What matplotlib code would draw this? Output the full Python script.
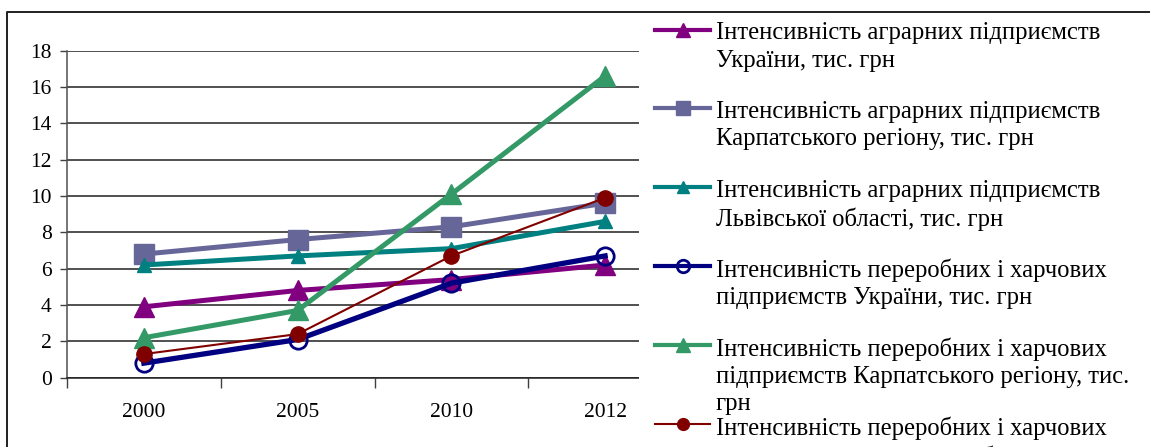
import matplotlib
matplotlib.use("Agg")
import matplotlib.pyplot as plt
from matplotlib.lines import Line2D
from matplotlib.patches import Rectangle
import numpy as np

plt.rcParams['font.family'] = ['Liberation Serif', 'DejaVu Serif']

years = ["2000", "2005", "2010", "2012"]
y_ticks = [0, 2, 4, 6, 8, 10, 12, 14, 16, 18]

agri_ukraine = [3.9, 4.8, 5.4, 6.2]
agri_carpathian = [6.8, 7.6, 8.3, 9.6]
agri_lviv = [6.2, 6.7, 7.1, 8.6]
food_ukraine = [0.8, 2.1, 5.2, 6.7]
food_carpathian = [2.2, 3.7, 10.1, 16.6]
food_lviv = [1.3, 2.4, 6.7, 9.9]

labels = [
    "Інтенсивність аграрних підприємств\nУкраїни, тис. грн",
    "Інтенсивність аграрних підприємств\nКарпатського регіону, тис. грн",
    "Інтенсивність аграрних підприємств\nЛьвівської області, тис. грн",
    "Інтенсивність переробних і харчових\nпідприємств України, тис. грн",
    "Інтенсивність переробних і харчових\nпідприємств Карпатського регіону, тис.\nгрн",
    "Інтенсивність переробних і харчових\nпідприємств Львівської області, тис. грн",
]

# (values, colour, marker, line width, plot marker size, legend marker size, face colour)
series = [
    (agri_ukraine, "#800080", "^", 3.6, 14.5, 10, "#800080"),
    (agri_carpathian, "#666699", "s", 3.6, 14, 10, "#666699"),
    (agri_lviv, "#008080", "^", 3.6, 10.5, 9, "#008080"),
    (food_ukraine, "#000080", "o", 3.8, 12.5, 9, "none"),
    (food_carpathian, "#339966", "^", 3.6, 14.5, 10, "#339966"),
    (food_lviv, "#800000", "o", 1.5, 11, 8.5, "#800000"),
]

W, H = 1150, 447
fig = plt.figure(figsize=(W / 100, H / 100), dpi=100)

# plot area in pixel terms
px_left, px_right, px_top, px_bottom = 67, 682, 50.5, 377.7
ax = fig.add_axes([px_left / W, 1 - px_bottom / H,
                   (px_right - px_left) / W, (px_bottom - px_top) / H])

x = np.arange(len(years)) + 0.5
for vals, col, mk, lw, ms, lms, fc in series:
    ax.plot(x, vals, color=col, lw=lw, marker=mk, ms=ms,
            markerfacecolor=fc, markeredgecolor=col,
            markeredgewidth=2 if fc == "none" else 1, zorder=3)

ax.set_xlim(0, len(years))
ax.set_ylim(0, 18)
ax.set_yticks(y_ticks)
ax.set_yticklabels([str(v) for v in y_ticks])
ax.set_xticks(np.arange(len(years) + 1))
ax.set_xticklabels([])
ax.set_xticks(x, minor=True)
ax.set_xticklabels(years, minor=True)
ax.tick_params(axis='x', which='major', length=7, width=1, color='#404040', direction='out')
ax.tick_params(axis='x', which='minor', length=0, pad=18, labelsize=15.5)
ax.tick_params(axis='y', length=5, width=1, color='#404040', pad=6, labelsize=15.5)
ax.yaxis.grid(True, color='#202020', lw=1.1)
ax.set_axisbelow(True)
for s in ['top', 'right']:
    ax.spines[s].set_visible(False)
ax.spines['left'].set_color('#505050')
ax.spines['bottom'].set_color('#202020')
ax.spines['left'].set_linewidth(1.1)
ax.spines['bottom'].set_linewidth(1.1)

# legend panel on the right, overlapping the plot area
panel_left = 639
fig.patches.append(Rectangle((panel_left / W, 0), 1 - panel_left / W, 1 - 14 / H,
                             transform=fig.transFigure, facecolor='white',
                             edgecolor='none', zorder=5))

# chart border
fig.add_artist(Line2D([7 / W, 7 / W, 1.0], [0, 1 - 12 / H, 1 - 12 / H],
                      transform=fig.transFigure, color='#202020', lw=1.4, zorder=6))

entry_top, entry_step = 29.5, 78.8
for i, ((vals, col, mk, lw, ms, lms, fc), lab) in enumerate(zip(series, labels)):
    yy = 1 - (entry_top + i * entry_step) / H
    fig.add_artist(Line2D([655 / W, 710 / W], [yy, yy], transform=fig.transFigure,
                          color=col, lw=min(lw, 3.0), zorder=7))
    fig.add_artist(Line2D([683 / W], [yy], transform=fig.transFigure,
                          color=col, marker=mk, ms=lms, markerfacecolor=fc,
                          markeredgecolor=col, markeredgewidth=2 if fc == "none" else 1,
                          lw=0, zorder=8))
    fig.text(716 / W, yy + 7 / H, lab, transform=fig.transFigure, fontsize=17.7,
             va='top', ha='left', zorder=8, linespacing=1.3)

fig.savefig("out.png", dpi=100)
